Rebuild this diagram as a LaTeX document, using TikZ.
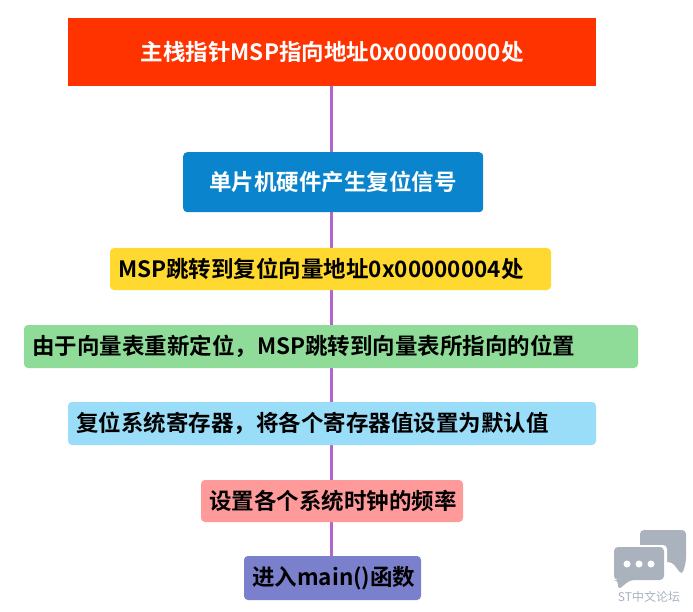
\documentclass[tikz,border=0pt]{standalone}
\usepackage{fontspec}
\newfontfamily\cjk{Noto Sans CJK SC}
\newfontfamily\cjkb{Noto Sans CJK SC Bold}
\definecolor{cred}{HTML}{FF3300}
\definecolor{cblue}{HTML}{0A84CC}
\definecolor{cyel}{HTML}{FFD92F}
\definecolor{cgreen}{HTML}{8FDC98}
\definecolor{clb}{HTML}{99DDF8}
\definecolor{cpink}{HTML}{FF9A9A}
\definecolor{cpur}{HTML}{7B80CC}
\definecolor{cline}{HTML}{B266CC}
\definecolor{cgray}{HTML}{AAB2BE}
\begin{document}
\begin{tikzpicture}[x=1pt,y=-1pt,
  bx/.style={inner sep=0pt,font=\cjkb\fontsize{22.5}{26}\selectfont,text=black},
  rbx/.style={bx,rounded corners=4pt}]
\useasboundingbox (0,0) rectangle (693,612);
\draw[cline,line width=3pt] (331,86) -- (331,560);
\node[bx,anchor=north west,fill=cred,text=white,minimum width=528pt,minimum height=68pt] (a) at (68,18) {主栈指针MSP指向地址0x00000000处};
\node[rbx,anchor=north west,fill=cblue,text=white,minimum width=300pt,minimum height=60pt] (b) at (183,152) {单片机硬件产生复位信号};
\fill[cyel,rounded corners=4pt] (110,248) rectangle (551,290);
\node[bx,anchor=west] (c) at (118,269) {MSP跳转到复位向量地址0x00000004处};
\fill[cgreen,rounded corners=4pt] (24,325) rectangle (638,368);
\node[bx,anchor=west] (d) at (32,346.5) {由于向量表重新定位，MSP跳转到向量表所指向的位置};
\fill[clb,rounded corners=4pt] (68,402) rectangle (596,445);
\node[bx,anchor=west] (e) at (76,423.5) {复位系统寄存器，将各个寄存器值设置为默认值};
\fill[cpink,rounded corners=4pt] (201,480) rectangle (463,522);
\node[bx,anchor=west] (f) at (209,501) {设置各个系统时钟的频率};
\fill[cpur,rounded corners=4pt] (244,556) rectangle (421,600);
\node[bx,anchor=west] (g) at (252,578) {进入main()函数};
% watermark
\fill[cgray,rounded corners=4pt] (640,530) -- (686,530) -- (686,562) -- (682,575) -- (672,562) -- (640,562) -- cycle;
\fill[white,rounded corners=4pt] (611,545) rectangle (667,582);
\fill[cgray,rounded corners=4pt] (614,547) -- (664,547) -- (664,580) -- (630,580) -- (618,590) -- (618,580) -- (614,580) -- cycle;
\foreach \xx in {627,639,651} \fill[white] (\xx,564) circle (3.5pt);
\node[font=\cjk\fontsize{12}{14}\selectfont,text=cgray] (w) at (649,597) {ST中文论坛};
\end{tikzpicture}
\end{document}
